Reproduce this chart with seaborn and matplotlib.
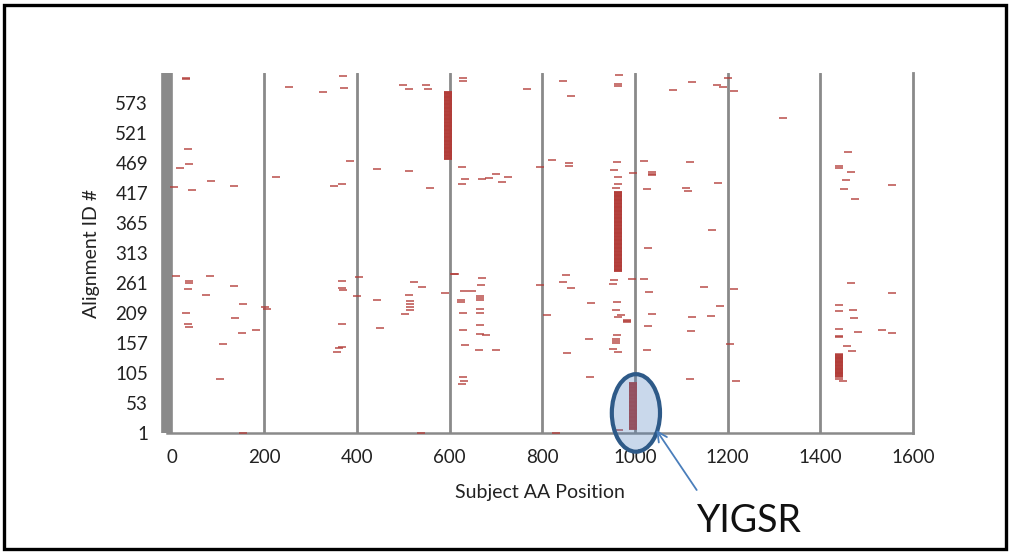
import matplotlib
matplotlib.use("Agg")
import matplotlib.pyplot as plt
from matplotlib.patches import Ellipse, Rectangle
import numpy as np
import pandas as pd
import seaborn as sns

# ---- data -------------------------------------------------------------
# isolated hits: subject AA position / alignment ID
hit_pos = [32, 32, 36, 37, 18, 85, 6, 45, 134,
           253, 327, 370, 371, 385, 226, 351, 368,
           499, 512, 443, 512,
           548, 554, 629, 629, 557, 627, 634, 627, 669, 686, 701, 727, 713,
           768, 844, 861, 966, 963, 963, 821, 858, 858, 796, 962, 955, 963, 964, 960,
           996, 1019, 1037, 1037, 1037, 1026, 1028,
           1123, 1081, 1178, 1190, 1201, 1214, 1320, 1118, 1180, 1111, 1115, 1167,
           1460, 1441, 1441, 1466, 1456, 1452, 1474, 1555,
           10, 37, 37, 36, 83, 135, 74, 154, 30, 137, 36, 38, 151, 183, 111, 105, 153, 202, 205,
           368, 367, 369, 405, 401, 368, 368, 362, 357, 444, 450, 522, 513, 514, 514, 514, 514, 503,
           540, 591, 609, 612, 670, 667, 630, 648, 625, 625, 665, 665, 665, 629, 665, 665, 628,
           665, 665, 679, 634, 664, 699, 629, 631, 626, 538,
           794, 852, 844, 862, 810, 904, 854, 901, 902, 830,
           955, 952, 962, 959, 970, 964, 982, 982, 982, 962, 959, 959, 959, 953, 963,
           994, 1019, 1031, 1037, 1028, 1026, 966,
           1148, 1183, 1123, 1163, 1120, 1118, 1214, 1206, 1218,
           1466, 1555, 1441, 1441, 1470, 1472, 1441, 1441, 1441, 1481, 1534, 1555, 1458, 1469,
           1441, 1448]
hit_id = [616, 613, 492, 466, 460, 437, 427, 421, 428,
          599, 592, 619, 598, 472, 444, 429, 432,
          603, 596, 458, 455,
          604, 596, 615, 611, 425, 462, 441, 432, 441, 442, 449, 444, 436,
          597, 611, 585, 621, 605, 601, 474, 468, 464, 461, 471, 456, 445, 433, 426,
          451, 472, 453, 450, 447, 423, 321,
          608, 594, 603, 600, 615, 593, 546, 470, 434, 425, 420, 353,
          487, 463, 459, 453, 439, 423, 407, 430,
          274, 265, 261, 251, 273, 256, 241, 224, 210, 201, 190, 185, 175, 180, 155, 95, 1, 220, 217,
          264, 253, 249, 271, 239, 190, 151, 148, 142, 231, 183, 262, 241, 230, 225, 219, 214, 208,
          254, 243, 277, 277, 270, 258, 248, 247, 232, 229, 238, 235, 232, 210, 217, 209, 179,
          188, 173, 171, 154, 145, 146, 98, 91, 87, 1,
          257, 275, 263, 252, 206, 227, 140, 164, 99, 2,
          266, 259, 228, 215, 205, 202, 198, 196, 193, 172, 164, 161, 158, 147, 141,
          268, 268, 245, 207, 186, 145, 7,
          255, 221, 203, 204, 178, 96, 250, 156, 92,
          261, 244, 223, 212, 214, 201, 182, 169, 167, 176, 180, 174, 153, 144,
          95, 91]

# contiguous blocks of hits: position, first alignment ID, last alignment ID
block_pos = [596, 963, 995, 1441]
block_first = [475, 281, 8, 99]
block_last = [592, 419, 89, 138]

YIGSR_BLOCK = 2  # index of the YIGSR block
x_ticks = [0, 200, 400, 600, 800, 1000, 1200, 1400, 1600]
y_ticks = [1, 53, 105, 157, 209, 261, 313, 365, 417, 469, 521, 573]

# ---- table ------------------------------------------------------------
rows = [{"pos": p, "id": i} for p, i in zip(hit_pos, hit_id)]
for p, a, b in zip(block_pos, block_first, block_last):
    rows += [{"pos": p, "id": i} for i in range(a, b + 1)]
df = pd.DataFrame(rows)

# ---- plot -------------------------------------------------------------
sns.set_style("white")
plt.rcParams["font.family"] = ["Lato", "DejaVu Sans"]

fig = plt.figure(figsize=(10.15, 5.52), dpi=100)
ax = fig.add_axes([0.165, 0.2147, 0.7345, 0.653])

grey = "#8a8a8a"
dash = [(-1, -0.2), (1, -0.2), (1, 0.2), (-1, 0.2), (-1, -0.2)]
sns.scatterplot(data=df, x="pos", y="id", ax=ax, marker=dash, s=28,
                color="#b23c38", alpha=0.7, linewidth=0, zorder=3, legend=False)

ax.set_xlim(-9, 1600)
ax.set_ylim(1, 624)
ax.set_xticks(x_ticks)
ax.set_yticks(y_ticks)
ax.grid(False)
for x in x_ticks[1:-1]:
    ax.axvline(x, color=grey, lw=2.0, zorder=1)

ax.spines["top"].set_visible(False)
ax.spines["left"].set_color(grey)
ax.spines["left"].set_linewidth(8.4)
ax.spines["left"].set_capstyle("butt")
ax.spines["right"].set_color(grey)
ax.spines["right"].set_linewidth(2.0)
ax.spines["bottom"].set_color(grey)
ax.spines["bottom"].set_linewidth(1.8)

ax.tick_params(axis="x", direction="out", length=5, width=1.4, color=grey,
               pad=6, labelsize=13.5, labelcolor="#222222")
ax.tick_params(axis="y", length=0, pad=14, labelsize=13.5, labelcolor="#222222")
ax.set_xlabel("Subject AA Position", fontsize=14, color="#222222", labelpad=13)
ax.set_ylabel("Alignment ID #", fontsize=14, color="#222222", labelpad=11)

# highlight of the YIGSR block
bx = block_pos[YIGSR_BLOCK]
by = (block_first[YIGSR_BLOCK] + block_last[YIGSR_BLOCK]) / 2
ell_fill = Ellipse((bx + 7, by - 12), 104, 134, facecolor="#4f81bd", alpha=0.3,
                   edgecolor="none", zorder=4, clip_on=False)
ell_edge = Ellipse((bx + 7, by - 12), 104, 134, facecolor="none", edgecolor="#2e5a88",
                   lw=3.0, zorder=4.1, clip_on=False)
ax.add_patch(ell_fill)
ax.add_patch(ell_edge)

ax.annotate("", xy=(bx + 51, block_first[YIGSR_BLOCK] - 1), xycoords="data",
            xytext=(0.6864, 0.1123), textcoords="figure fraction",
            arrowprops=dict(arrowstyle="->,head_length=0.7,head_width=0.35",
                            color="#4a7ebb", lw=1.3, shrinkA=0, shrinkB=0),
            annotation_clip=False, zorder=5)
fig.text(0.738, 0.0553, "YIGSR", ha="center", va="center", fontsize=27,
         color="#111111")

fig.patches.append(Rectangle((0.0039, 0.0054), 0.9872, 0.9856, transform=fig.transFigure,
                             fill=False, edgecolor="black", lw=2.4))

fig.savefig("out.png", dpi=100)
